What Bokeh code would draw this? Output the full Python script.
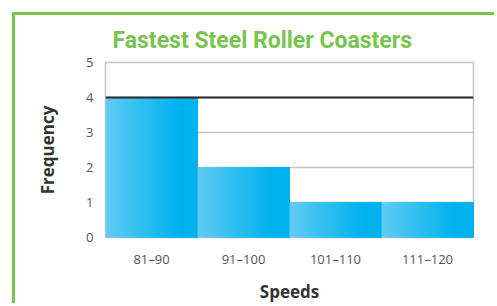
from bokeh.plotting import figure
from bokeh.models import FixedTicker, Span, Range1d
from bokeh.embed import file_html
from bokeh.resources import INLINE

title_text = "Fastest Steel Roller Coasters"
categories = ["81–90", "91–100", "101–110", "111–120"]
frequency = [4, 2, 1, 1]
y_ticks = [0, 1, 2, 3, 4, 5]
x_label = "Speeds"
y_label = "Frequency"

GREEN = "#79C350"

p = figure(width=482, height=291, output_backend="svg", toolbar_location=None,
           x_range=Range1d(0, len(categories)), y_range=Range1d(0, 5),
           min_border_left=90, min_border_right=24, min_border_top=47,
           min_border_bottom=69)
p.styles = {"margin-left": "12px", "margin-top": "12px",
            "border-left": "3px solid " + GREEN, "border-top": "3px solid " + GREEN}

p.title.text = title_text
p.title.text_color = GREEN
p.title.text_font = "Roboto"
p.title.text_font_style = "bold"
p.title.text_font_size = "23px"
p.title.align = "left"
p.title.offset = 7
p.title.standoff = 18

# gradient bars built from overlapping strips
def lerp(c1, c2, t):
    a = [int(c1[i:i+2], 16) for i in (1, 3, 5)]
    b = [int(c2[i:i+2], 16) for i in (1, 3, 5)]
    return "#%02x%02x%02x" % tuple(int(round(a[j] + (b[j] - a[j]) * t)) for j in range(3))

N = 24
lefts, rights, tops, colors = [], [], [], []
for i, f in enumerate(frequency):
    for k in range(N):
        t = k / (N - 1)
        tt = min(1.0, t * 1.25)
        lefts.append(i + k / N)
        rights.append(i + 1)
        tops.append(f)
        colors.append(lerp("#5ECBF3", "#00B2EE", tt))
p.quad(left=lefts, right=rights, bottom=0, top=tops, fill_color=colors,
       line_color=None)

p.add_layout(Span(location=max(frequency), dimension="width", line_color="#2b2b2b",
                  line_width=2))

p.xaxis.ticker = FixedTicker(ticks=[i + 0.5 for i in range(len(categories))])
p.xaxis.major_label_overrides = {i + 0.5: c for i, c in enumerate(categories)}
p.yaxis.ticker = FixedTicker(ticks=y_ticks)
p.xgrid.visible = False
p.ygrid.ticker = FixedTicker(ticks=y_ticks)
p.ygrid.grid_line_color = "#c4c4c4"
p.ygrid.grid_line_width = 1.5

for ax in (p.xaxis, p.yaxis):
    ax.axis_line_color = None
    ax.major_tick_line_color = None
    ax.minor_tick_line_color = None
    ax.major_label_text_color = "#555555"
    ax.major_label_text_font = "Open Sans"
    ax.major_label_text_font_size = "13px"
    ax.axis_label_text_font = "Open Sans"
    ax.axis_label_text_font_style = "bold"
    ax.axis_label_text_font_size = "17px"
    ax.axis_label_text_color = "#333333"

p.xaxis.axis_label = x_label
p.yaxis.axis_label = y_label
p.xaxis.major_label_standoff = 6
p.yaxis.major_label_standoff = 6
p.xaxis.axis_label_standoff = 9
p.yaxis.axis_label_standoff = 24

p.outline_line_color = "#c4c4c4"
p.outline_line_width = 1.5
p.background_fill_color = "white"
p.border_fill_color = "white"

open("out.html", "w").write(file_html(p, INLINE))
